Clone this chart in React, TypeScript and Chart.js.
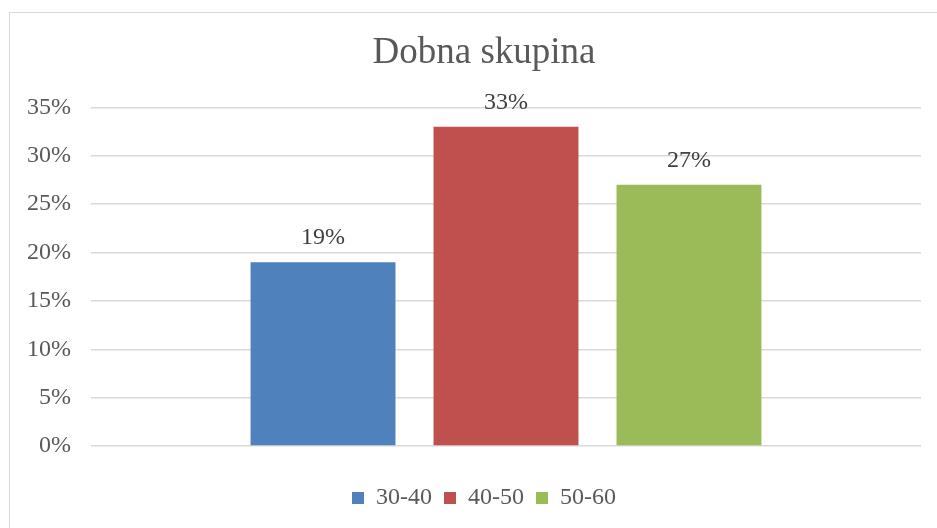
import React, { useEffect, useRef } from "react";
import { Chart, registerables } from "chart.js";

Chart.register(...registerables);

const categories: string[] = [""];
const seriesLabels: string[] = ["30-40", "40-50", "50-60"];
const seriesValues: number[][] = [[19], [33], [27]];
const seriesColors: string[] = ["#4f81bd", "#c0504d", "#9bbb59"];
const titleText = "Dobna skupina";
const yTicks = { min: 0, max: 35, step: 5 };

const FONT = "'Liberation Serif', 'Times New Roman', serif";

const valueLabels = {
  id: "valueLabels",
  afterDatasetsDraw(chart: any) {
    const ctx = chart.ctx;
    ctx.save();
    ctx.font = `24px ${FONT}`;
    ctx.fillStyle = "#404040";
    ctx.textAlign = "center";
    ctx.textBaseline = "alphabetic";
    chart.data.datasets.forEach((ds: any, i: number) => {
      const meta = chart.getDatasetMeta(i);
      meta.data.forEach((el: any, j: number) => {
        ctx.fillText(`${ds.data[j]}%`, el.x, el.y - 18);
      });
    });
    ctx.restore();
  },
};

export default function App() {
  const ref = useRef<HTMLCanvasElement | null>(null);
  useEffect(() => {
    if (!ref.current) return;
    const chart = new Chart(ref.current, {
      type: "bar",
      data: {
        labels: categories,
        datasets: seriesLabels.map((l, i) => ({
          label: l,
          data: seriesValues[i],
          backgroundColor: seriesColors[i],
          borderWidth: 0,
          categoryPercentage: 0.6614,
          barPercentage: 0.792,
        })),
      },
      options: {
        animation: false,
        responsive: false,
        maintainAspectRatio: false,
        layout: { padding: { left: 0, right: 0, top: 0, bottom: 8 } },
        plugins: {
          tooltip: { enabled: false },
          title: {
            display: true,
            text: titleText,
            color: "#595959",
            font: { family: FONT, size: 37, weight: "normal" },
            padding: { top: 18, bottom: 32 },
          },
          legend: {
            display: true,
            position: "bottom",
            labels: {
              color: "#595959",
              font: { family: FONT, size: 24 },
              boxWidth: 12,
              boxHeight: 12,
              padding: 12,
            },
          },
        },
        scales: {
          x: {
            display: true,
            grid: { display: false },
            border: { display: false },
            ticks: { display: false },
            title: {
              display: true,
              text: " ",
              font: { size: 10 },
              padding: { top: 8, bottom: 0 },
            },
          },
          y: {
            min: yTicks.min,
            max: yTicks.max,
            afterFit(scale: any) {
              scale.width = 81;
            },
            ticks: {
              stepSize: yTicks.step,
              padding: 20,
              color: "#595959",
              font: { family: FONT, size: 24 },
              callback: (v: any) => `${v}%`,
            },
            grid: { color: "#d9d9d9", lineWidth: 1.5, drawTicks: false },
            border: { display: false },
          },
          yRight: {
            position: "right",
            display: true,
            min: yTicks.min,
            max: yTicks.max,
            afterFit(scale: any) {
              scale.width = 37;
            },
            ticks: { display: false },
            grid: { display: false, drawTicks: false },
            border: { display: false },
          },
        },
      },
      plugins: [valueLabels],
    });
    return () => chart.destroy();
  }, []);

  return (
    <div style={{ position: "fixed", left: 0, top: 0, width: 937, height: 528, overflow: "hidden", background: "#fff" }}>
      <div
        style={{
          position: "absolute",
          left: 9,
          top: 12,
          width: 948,
          height: 540,
          border: "1px solid #d9d9d9",
          boxSizing: "content-box",
        }}
      >
        <canvas ref={ref} width={948} height={515} style={{ display: "block", width: 948, height: 515 }} />
      </div>
    </div>
  );
}
